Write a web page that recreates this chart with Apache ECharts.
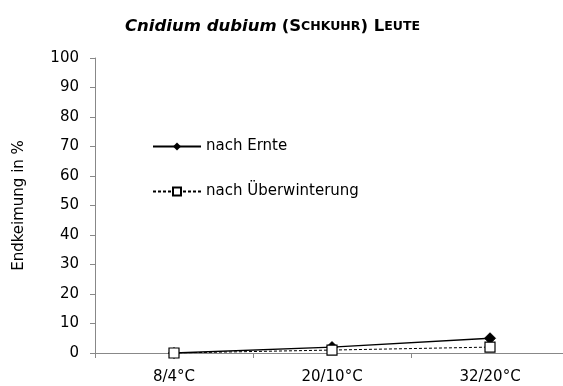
<!DOCTYPE html>
<html><head><meta charset="utf-8">
<script src="https://cdn.jsdelivr.net/npm/echarts@6/dist/echarts.min.js"></script>
<style>html,body{margin:0;padding:0;background:#fff}#c{width:563px;height:386px}</style>
</head><body><div id="c"></div>
<script>
const categories = ['8/4°C', '20/10°C', '32/20°C'];
const nachErnte = [0, 2, 5];
const nachUeberwinterung = [0, 1, 2];
const yTicks = [0, 10, 20, 30, 40, 50, 60, 70, 80, 90, 100];

const chart = echarts.init(document.getElementById('c'), null, {renderer: 'canvas'});
const font = 'DejaVu Sans, Verdana, sans-serif';
chart.setOption({
  animation: false,
  title: {
    text: '{i|Cnidium dubium} {b|(S}{s|CHKUHR}{b|) L}{s|EUTE}',
    left: 125, top: 18, padding: 0,
    textStyle: {
      rich: {
        i: {fontFamily: font, fontSize: 16.5, fontWeight: 'bold', fontStyle: 'italic', color: '#000'},
        b: {fontFamily: font, fontSize: 16.5, fontWeight: 'bold', color: '#000'},
        s: {fontFamily: font, fontSize: 12.5, fontWeight: 'bold', color: '#000'}
      }
    }
  },
  grid: {left: 95, width: 474, top: 58, height: 295, containLabel: false, outerBoundsMode: 'none'},
  legend: {
    orient: 'vertical', left: 152, top: 139, padding: 0, itemGap: 30,
    itemWidth: 48, itemHeight: 10,
    textStyle: {fontFamily: font, fontSize: 15, color: '#000', padding: [0, 0, 0, 0]},
    data: ['nach Ernte', 'nach Überwinterung']
  },
  xAxis: {
    type: 'category', data: categories, boundaryGap: true,
    axisLine: {lineStyle: {color: '#888', width: 1}},
    axisTick: {show: true, length: 5, lineStyle: {color: '#888'}},
    axisLabel: {fontFamily: font, fontSize: 15, color: '#000', margin: 17}
  },
  yAxis: {
    type: 'value', min: 0, max: 100, interval: 10,
    name: 'Endkeimung in %', nameLocation: 'middle', nameGap: 68,
    nameTextStyle: {fontFamily: font, fontSize: 15, color: '#000'},
    axisLine: {show: true, lineStyle: {color: '#888', width: 1}},
    axisTick: {show: true, length: 5, lineStyle: {color: '#888'}},
    splitLine: {show: false},
    axisLabel: {fontFamily: font, fontSize: 15, color: '#000', margin: 16,
      formatter: v => yTicks.includes(v) ? String(v) : ''}
  },
  series: [
    {
      name: 'nach Ernte', type: 'line', data: nachErnte,
      symbol: 'diamond', symbolSize: 11,
      itemStyle: {color: '#000', borderColor: '#000'},
      lineStyle: {color: '#000', width: 1.3, type: 'solid'},
      z: 2
    },
    {
      name: 'nach Überwinterung', type: 'line', data: nachUeberwinterung,
      symbol: 'rect', symbolSize: 10,
      itemStyle: {color: '#fff', borderColor: '#000', borderWidth: 1.2},
      lineStyle: {color: '#000', width: 1, type: [3, 2]},
      z: 3
    }
  ]
});
</script></body></html>
